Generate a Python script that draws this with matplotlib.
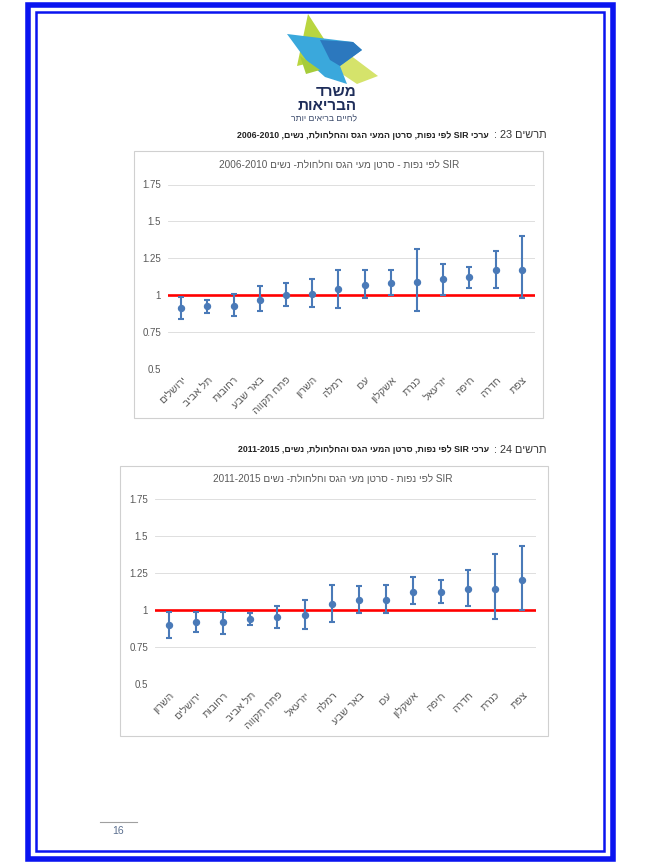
import re
import matplotlib
matplotlib.use("Agg")
import matplotlib.pyplot as plt
from matplotlib.patches import Rectangle, Polygon

plt.rcParams['font.family'] = ['Liberation Sans', 'DejaVu Sans']

# ---------------- data ----------------
cats1 = ["ירושלים", "תל אביב", "רחובות", "באר שבע", "פתח תקווה", "השרון", "רמלה",
         "עכו", "אשקלון", "כנרת", "יזרעאל", "חיפה", "חדרה", "צפת"]
sir1 = [0.91, 0.93, 0.93, 0.97, 1.00, 1.01, 1.04, 1.07, 1.08, 1.09, 1.11, 1.12, 1.17, 1.17]
low1 = [0.84, 0.88, 0.86, 0.89, 0.93, 0.92, 0.91, 0.98, 1.00, 0.89, 1.00, 1.05, 1.05, 0.98]
up1 = [0.99, 0.97, 1.01, 1.06, 1.08, 1.11, 1.17, 1.17, 1.17, 1.31, 1.21, 1.19, 1.30, 1.40]

cats2 = ["השרון", "ירושלים", "רחובות", "תל אביב", "פתח תקווה", "יזרעאל", "רמלה",
         "באר שבע", "עכו", "אשקלון", "חיפה", "חדרה", "כנרת", "צפת"]
sir2 = [0.90, 0.92, 0.92, 0.94, 0.95, 0.97, 1.04, 1.07, 1.07, 1.12, 1.12, 1.14, 1.14, 1.20]
low2 = [0.81, 0.85, 0.84, 0.90, 0.88, 0.87, 0.92, 0.98, 0.98, 1.04, 1.05, 1.03, 0.94, 1.00]
up2 = [0.99, 0.99, 0.99, 0.98, 1.03, 1.07, 1.17, 1.16, 1.17, 1.22, 1.20, 1.27, 1.38, 1.43]

yticks = [0.5, 0.75, 1, 1.25, 1.5, 1.75]
ytick_labels = ["0.5", "0.75", "1", "1.25", "1.5", "1.75"]
ref_value = 1.0

title1 = "SIR לפי נפות - סרטן מעי הגס וחלחולת- נשים 2006-2010"
title2 = "SIR לפי נפות - סרטן מעי הגס וחלחולת- נשים 2011-2015"
cap1_a = "תרשים 23 :"
cap1_b = "ערכי SIR לפי נפות, סרטן המעי הגס והחלחולת, נשים, 2006-2010"
cap2_a = "תרשים 24 :"
cap2_b = "ערכי SIR לפי נפות, סרטן המעי הגס והחלחולת, נשים, 2011-2015"
page_no = "16"


def vis(s):
    """Convert logical RTL Hebrew text into visual (left-to-right) order."""
    r = s[::-1]
    return re.sub(r'[A-Za-z0-9][A-Za-z0-9\-\.]*[A-Za-z0-9]|[A-Za-z0-9]',
                  lambda m: m.group(0)[::-1], r)


W, H = 645, 865
fig = plt.figure(figsize=(W / 100, H / 100), dpi=100)
fig.patch.set_facecolor('white')

# overlay axes in pixel coordinates
ov = fig.add_axes([0, 0, 1, 1])
ov.set_xlim(0, W)
ov.set_ylim(H, 0)
ov.axis('off')

# page borders
ov.add_patch(Rectangle((27.5, 4.5), 613 - 27.5, 858.5 - 4.5, fill=False,
                       edgecolor='#0A14F0', lw=4.0))
ov.add_patch(Rectangle((35.5, 12), 604 - 35.5, 851 - 12, fill=False,
                       edgecolor='#0A14F0', lw=1.8))

# logo
ov.add_patch(Polygon([(308, 14), (326, 42), (314, 62), (297, 66)], closed=True,
                     facecolor='#B9D53F', edgecolor='none'))
ov.add_patch(Polygon([(346, 52), (378, 76), (357, 84), (336, 70)], closed=True,
                     facecolor='#D5E36B', edgecolor='none'))
ov.add_patch(Polygon([(287, 34), (353, 42), (362, 50), (340, 66), (347, 84),
                      (325, 77), (306, 60)], closed=True,
                     facecolor='#3AA8DC', edgecolor='none'))
ov.add_patch(Polygon([(320, 40), (353, 42), (362, 50), (340, 66), (330, 60)], closed=True,
                     facecolor='#2C78BE', edgecolor='none'))
ov.add_patch(Polygon([(300, 56), (320, 70), (306, 74)], closed=True,
                     facecolor='#A6CC3A', edgecolor='none'))
ov.text(357, 92, vis("משרד"), ha='right', va='center', fontsize=11,
        fontweight='bold', color='#1E2D5A')
ov.text(357, 106, vis("הבריאות"), ha='right', va='center', fontsize=11,
        fontweight='bold', color='#1E2D5A')
ov.text(357, 119, vis("לחיים בריאים יותר"), ha='right', va='center', fontsize=6.2,
        color='#3B4A6B')

# captions
for (ya, ca, cb) in [(135, cap1_a, cap1_b), (450, cap2_a, cap2_b)]:
    ov.text(547, ya, vis(ca), ha='right', va='center', fontsize=7.8, color='#333333')
    ov.text(489, ya, vis(cb), ha='right', va='center', fontsize=6.3,
            fontweight='bold', color='#222222')

# chart boxes
ov.add_patch(Rectangle((133.5, 150.5), 543 - 133.5, 418 - 150.5, fill=False,
                       edgecolor='#D0D0D0', lw=0.8))
ov.add_patch(Rectangle((119.5, 465.5), 548 - 119.5, 735.5 - 465.5, fill=False,
                       edgecolor='#D0D0D0', lw=0.8))

ov.text(339, 165, vis(title1), ha='center', va='center', fontsize=7.2, color='#595959')
ov.text(333, 479, vis(title2), ha='center', va='center', fontsize=7.2, color='#595959')

# page number
ov.plot([100, 137], [821.5, 821.5], color='#A0A0A0', lw=0.8)
ov.text(118, 830.5, page_no, ha='center', va='center', fontsize=7.5, color='#5B6F8F')

BLUE = '#4A7AB8'


def draw_chart(l, r, t, b, cats, sir, low, up):
    ax = fig.add_axes([l / W, 1 - b / H, (r - l) / W, (b - t) / H])
    ax.set_facecolor('none')
    x = list(range(len(cats)))
    yerr = [[s - lo for s, lo in zip(sir, low)], [u - s for s, u in zip(sir, up)]]
    ax.axhline(ref_value, color='#FF0000', lw=1.9, zorder=2)
    ax.errorbar(x, sir, yerr=yerr, fmt='o', color=BLUE, ecolor=BLUE, elinewidth=1.5,
                capsize=1.9, capthick=1.5, markersize=4.3, zorder=3)
    ax.set_xlim(-0.5, len(cats) - 0.5)
    ax.set_ylim(0.5, 1.75)
    ax.set_yticks(yticks)
    ax.set_yticklabels(ytick_labels, fontsize=7)
    ax.set_xticks(x)
    ax.set_xticklabels([vis(c) for c in cats], rotation=45, ha='right',
                       rotation_mode='anchor', fontsize=7.5)
    ax.grid(axis='y', color='#D9D9D9', lw=0.6, zorder=0)
    ax.set_axisbelow(True)
    for sp in ax.spines.values():
        sp.set_visible(False)
    ax.tick_params(axis='both', length=0, colors='#595959')
    ax.tick_params(axis='y', pad=5)
    ax.tick_params(axis='x', pad=4)
    return ax


draw_chart(168, 535, 184.5, 369, cats1, sir1, low1, up1)
draw_chart(155, 535.7, 498.7, 684.3, cats2, sir2, low2, up2)

fig.savefig('out.png', dpi=100, facecolor='white')
